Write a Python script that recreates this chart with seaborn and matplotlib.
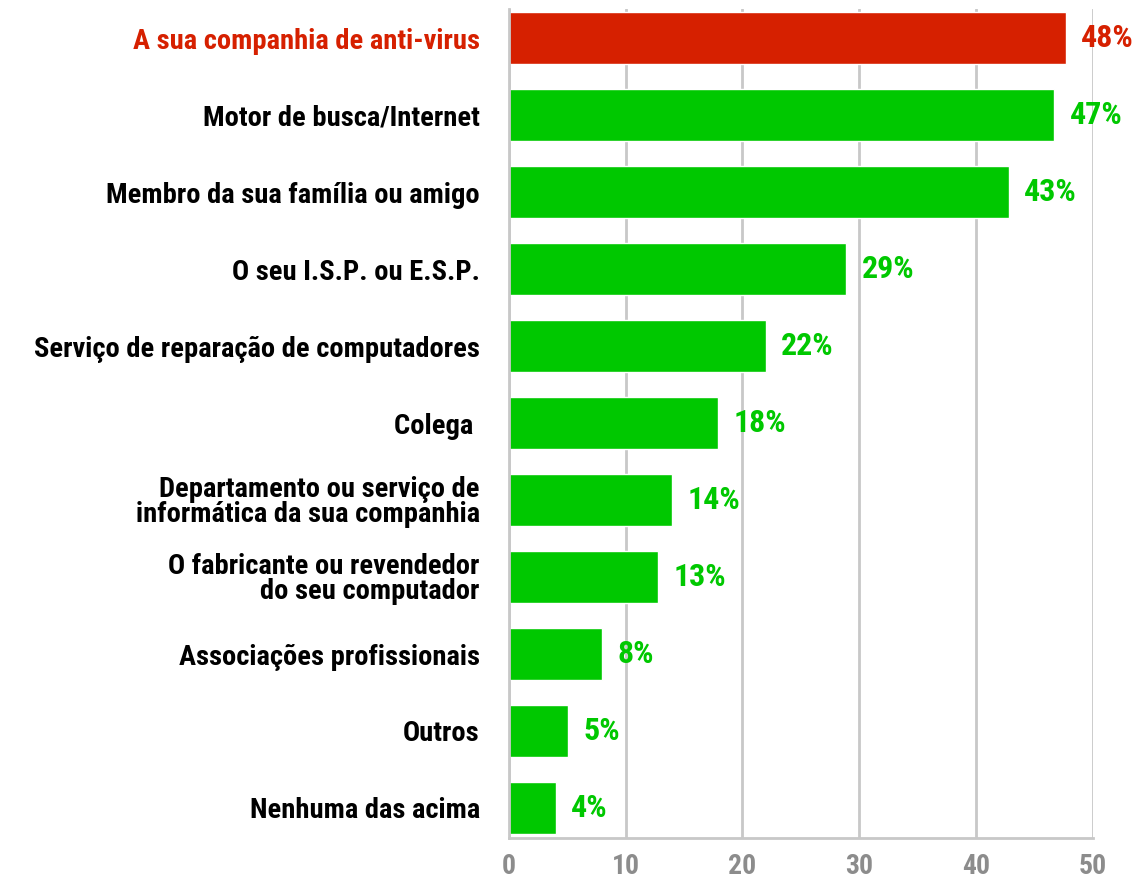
import matplotlib
matplotlib.use("Agg")
import matplotlib.pyplot as plt
import seaborn as sns
import pandas as pd
from matplotlib import font_manager

categories = [
    "A sua companhia de anti-virus",
    "Motor de busca/Internet",
    "Membro da sua família ou amigo",
    "O seu I.S.P. ou E.S.P.",
    "Serviço de reparação de computadores",
    "Colega ",
    "Departamento ou serviço de\ninformática da sua companhia",
    "O fabricante ou revendedor\ndo seu computador",
    "Associações profissionais",
    "Outros",
    "Nenhuma das acima",
]
values = [47.7, 46.7, 42.8, 28.9, 22.0, 17.9, 14.0, 12.8, 8.0, 5.1, 4.0]
value_labels = ["48%", "47%", "43%", "29%", "22%", "18%", "14%", "13%", "8%", "5%", "4%"]
highlight = [True] + [False] * 10
x_ticks = [0, 10, 20, 30, 40, 50]

RED = "#d62000"
GREEN = "#00c800"
GRID = "#c8c8c8"

sns.set_theme(style="white")
avail = {f.name for f in font_manager.fontManager.ttflist}
fams = [f for f in ["Liberation Sans Narrow", "DejaVu Sans Condensed", "Roboto Condensed", "Liberation Sans"] if f in avail]
plt.rcParams["font.family"] = fams + ["DejaVu Sans"]

df = pd.DataFrame({"cat": categories, "val": values,
                   "grp": ["hi" if h else "lo" for h in highlight]})

fig = plt.figure(figsize=(11.36, 8.82), dpi=100)
ax = fig.add_axes([0.448, 0.0499, 0.514, 0.94])

sns.barplot(data=df, y="cat", x="val", hue="grp", orient="h",
            palette={"hi": RED, "lo": GREEN}, dodge=False, width=0.675,
            legend=False, ax=ax, saturation=1)

ax.set_xlim(0, 50)
ax.set_ylim(len(categories) - 1 + 0.39, -0.38)
ax.set_xticks(x_ticks)
ax.set_xticklabels([str(t) for t in x_ticks], fontsize=20, fontweight="bold", color="#8c8c8c")
ax.xaxis.grid(True, color=GRID, linewidth=2)
ax.set_axisbelow(True)
ax.tick_params(axis="x", length=0, pad=11)
ax.tick_params(axis="y", length=0, pad=21)
ax.set_xlabel("")
ax.set_ylabel("")

for lab, h in zip(ax.get_yticklabels(), highlight):
    lab.set_fontsize(20.5)
    lab.set_fontweight("bold")
    lab.set_color(RED if h else "black")
    lab.set_linespacing(0.9)

for sp in ["top", "right"]:
    ax.spines[sp].set_visible(False)
for sp in ["left", "bottom"]:
    ax.spines[sp].set_color(GRID)
    ax.spines[sp].set_linewidth(2)

for i, (v, lbl, h) in enumerate(zip(values, value_labels, highlight)):
    ax.text(v + 1.3, i, lbl, va="center", ha="left", fontsize=23,
            fontweight="bold", color=RED if h else GREEN)

fig.savefig("out.png", dpi=100)
